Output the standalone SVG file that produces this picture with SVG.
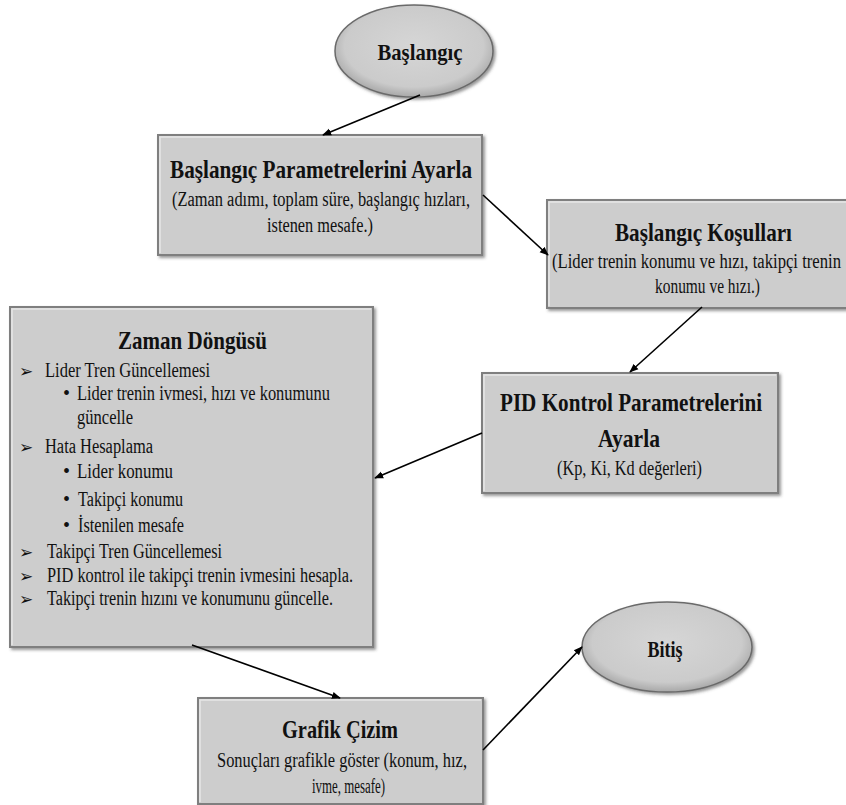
<svg xmlns="http://www.w3.org/2000/svg" width="846" height="805" viewBox="0 0 846 805">
<defs>
<filter id="sh" x="-10%" y="-10%" width="130%" height="130%">
<feDropShadow dx="2" dy="2" stdDeviation="1.5" flood-color="#444" flood-opacity="0.55"/>
</filter>
<radialGradient id="eg" cx="50%" cy="45%" r="55%">
<stop offset="0" stop-color="#d6d6d6"/>
<stop offset="0.8" stop-color="#cbcbcb"/>
<stop offset="1" stop-color="#a8a8a8"/>
</radialGradient>
<marker id="ah" viewBox="0 0 10 10" refX="9" refY="5" markerWidth="9" markerHeight="9" markerUnits="userSpaceOnUse" orient="auto">
<path d="M0,1 L10,5 L0,9 z" fill="#000"/>
</marker>
</defs>
<style>
.box{fill:#cdcdcd;stroke:#7f7f7f;stroke-width:2;filter:url(#sh)}
.hl{fill:none;stroke:#e6e6e6;stroke-width:1.5}
.ell{fill:url(#eg);stroke:#6a6a6a;stroke-width:1.5;filter:url(#sh)}
text{font-family:'Liberation Serif','DejaVu Serif',serif;fill:#111}
.b{font-weight:bold;font-size:25px}
.s{font-size:20px}
.l{font-size:20px}
text.sym{font-family:'DejaVu Sans',sans-serif;font-size:17px}
.con{stroke:#000;stroke-width:1.6;fill:none;marker-end:url(#ah)}
</style>
<rect width="846" height="805" fill="#fff"/>

<g id="start">
<ellipse class="ell" cx="414" cy="51" rx="79" ry="46"/>
<text x="420" y="60" font-size="24" font-weight="bold" text-anchor="middle" textLength="85" lengthAdjust="spacingAndGlyphs">Başlangıç</text>
</g>

<g id="params">
<rect class="box" x="158" y="135" width="324" height="120"/>
<path class="hl" d="M160,253 V137 H480"/>
<text class="b" x="170" y="178" textLength="302" lengthAdjust="spacingAndGlyphs">Başlangıç Parametrelerini Ayarla</text>
<text class="s" x="172" y="206" textLength="298" lengthAdjust="spacingAndGlyphs">(Zaman adımı, toplam süre, başlangıç hızları,</text>
<text class="s" x="267" y="232" textLength="106" lengthAdjust="spacingAndGlyphs">istenen mesafe.)</text>
</g>

<g id="initial">
<rect class="box" x="547" y="200" width="310" height="108"/>
<path class="hl" d="M549,306 V202 H856"/>
<text class="b" x="615" y="241" textLength="177" lengthAdjust="spacingAndGlyphs">Başlangıç Koşulları</text>
<text class="s" x="552" y="268" textLength="289" lengthAdjust="spacingAndGlyphs">(Lider trenin konumu ve hızı, takipçi trenin</text>
<text class="s" x="655" y="293" textLength="105" lengthAdjust="spacingAndGlyphs">konumu ve hızı.)</text>
</g>

<g id="pid">
<rect class="box" x="482" y="373" width="296" height="120"/>
<path class="hl" d="M484,491 V375 H776"/>
<text class="b" x="500" y="411" textLength="262" lengthAdjust="spacingAndGlyphs">PID Kontrol Parametrelerini</text>
<text class="b" x="598" y="447" textLength="62" lengthAdjust="spacingAndGlyphs">Ayarla</text>
<text class="s" x="557" y="475" textLength="145" lengthAdjust="spacingAndGlyphs">(Kp, Ki, Kd değerleri)</text>
</g>

<g id="loop">
<rect class="box" x="10" y="307" width="363" height="340"/>
<path class="hl" d="M12,645 V309 H371"/>
<text class="b" x="118" y="349" font-size="26" textLength="149" lengthAdjust="spacingAndGlyphs">Zaman Döngüsü</text>
<text class="sym" x="19" y="377">➢</text>
<text class="l" x="45" y="377" textLength="165" lengthAdjust="spacingAndGlyphs">Lider Tren Güncellemesi</text>
<text class="l" x="63" y="400">•</text>
<text class="l" x="77" y="400" textLength="253" lengthAdjust="spacingAndGlyphs">Lider trenin ivmesi, hızı ve konumunu</text>
<text class="l" x="77" y="424" textLength="56" lengthAdjust="spacingAndGlyphs">güncelle</text>
<text class="sym" x="19" y="453">➢</text>
<text class="l" x="45" y="453" textLength="108" lengthAdjust="spacingAndGlyphs">Hata Hesaplama</text>
<text class="l" x="63" y="478">•</text>
<text class="l" x="77" y="478" textLength="96" lengthAdjust="spacingAndGlyphs">Lider konumu</text>
<text class="l" x="63" y="506">•</text>
<text class="l" x="78" y="506" textLength="105" lengthAdjust="spacingAndGlyphs">Takipçi konumu</text>
<text class="l" x="63" y="532">•</text>
<text class="l" x="78" y="532" textLength="106" lengthAdjust="spacingAndGlyphs">İstenilen mesafe</text>
<text class="sym" x="19" y="558">➢</text>
<text class="l" x="47" y="558" textLength="175" lengthAdjust="spacingAndGlyphs">Takipçi Tren Güncellemesi</text>
<text class="sym" x="19" y="582">➢</text>
<text class="l" x="47" y="582" textLength="306" lengthAdjust="spacingAndGlyphs">PID kontrol ile takipçi trenin ivmesini hesapla.</text>
<text class="sym" x="19" y="605">➢</text>
<text class="l" x="47" y="605" textLength="286" lengthAdjust="spacingAndGlyphs">Takipçi trenin hızını ve konumunu güncelle.</text>
</g>

<g id="plot">
<rect class="box" x="198" y="698" width="285" height="106"/>
<path class="hl" d="M200,802 V700 H481"/>
<text class="b" x="282" y="738" textLength="116" lengthAdjust="spacingAndGlyphs">Grafik Çizim</text>
<text class="s" x="217" y="767" textLength="250" lengthAdjust="spacingAndGlyphs">Sonuçları grafikle göster (konum, hız,</text>
<text class="s" x="312" y="793" textLength="73" lengthAdjust="spacingAndGlyphs">ivme, mesafe)</text>
</g>

<g id="end">
<ellipse class="ell" cx="667" cy="647" rx="85" ry="45"/>
<text x="665" y="657" font-size="24" font-weight="bold" text-anchor="middle" textLength="35" lengthAdjust="spacingAndGlyphs">Bitiş</text>
</g>

<g id="connectors">
<line class="con" x1="420" y1="95" x2="323" y2="135"/>
<line class="con" x1="483" y1="195" x2="548" y2="255"/>
<line class="con" x1="702" y1="307" x2="630" y2="372"/>
<line class="con" x1="482" y1="433" x2="375" y2="478"/>
<line class="con" x1="192" y1="645" x2="340" y2="698"/>
<line class="con" x1="483" y1="750" x2="582" y2="647"/>
</g>
</svg>
